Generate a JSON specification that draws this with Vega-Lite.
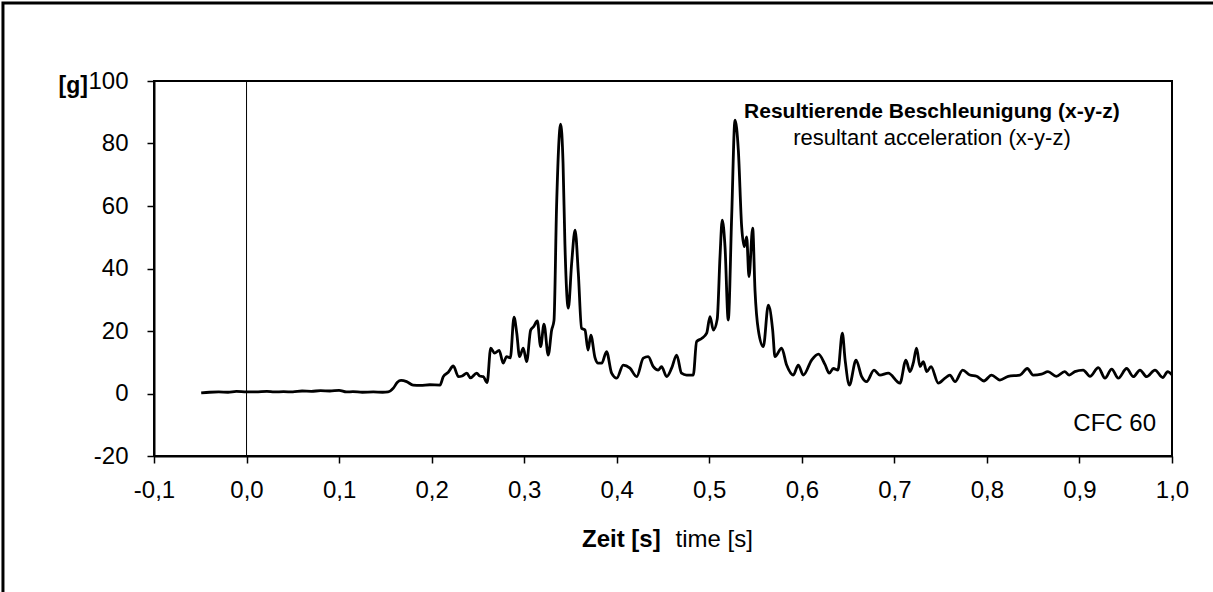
{
  "$schema": "https://vega.github.io/schema/vega-lite/v6.json",
  "width": 1018,
  "height": 375,
  "autosize": "none",
  "padding": {"left": 154, "top": 81, "right": 41, "bottom": 136},
  "background": "white",
  "config": {
    "font": "Liberation Sans",
    "view": {"stroke": "#000", "strokeWidth": 2},
    "axis": {
      "grid": false,
      "domainColor": "#000",
      "domainWidth": 2,
      "tickColor": "#000",
      "tickWidth": 1.5,
      "tickSize": 7,
      "labelColor": "#000",
      "labelFont": "Liberation Sans",
      "labelFontSize": 24,
      "labelOverlap": false,
      "labelFlush": false,
      "titleColor": "#000",
      "titleFont": "Liberation Sans"
    },
    "text": {"font": "Liberation Sans", "color": "#000"}
  },
  "data": {
    "values": [
      {"t": -0.049, "g": 0.2}, {"t": -0.04, "g": 0.4}, {"t": -0.03, "g": 0.5}, {"t": -0.02, "g": 0.4},
      {"t": -0.011, "g": 0.7}, {"t": 0.0, "g": 0.5}, {"t": 0.01, "g": 0.5}, {"t": 0.022, "g": 0.7},
      {"t": 0.03, "g": 0.5}, {"t": 0.04, "g": 0.6}, {"t": 0.05, "g": 0.5}, {"t": 0.06, "g": 0.8},
      {"t": 0.07, "g": 0.7}, {"t": 0.08, "g": 0.9}, {"t": 0.09, "g": 0.8}, {"t": 0.1, "g": 1.0},
      {"t": 0.108, "g": 0.5}, {"t": 0.115, "g": 0.6}, {"t": 0.125, "g": 0.4}, {"t": 0.137, "g": 0.5},
      {"t": 0.147, "g": 0.4}, {"t": 0.153, "g": 0.5}, {"t": 0.1586, "g": 1.7}, {"t": 0.163, "g": 3.6},
      {"t": 0.167, "g": 4.2}, {"t": 0.173, "g": 3.8}, {"t": 0.18, "g": 2.7}, {"t": 0.188, "g": 2.6},
      {"t": 0.198, "g": 2.8}, {"t": 0.209, "g": 2.7}, {"t": 0.2126, "g": 5.4}, {"t": 0.218, "g": 6.8},
      {"t": 0.2234, "g": 8.8}, {"t": 0.229, "g": 5.4}, {"t": 0.233, "g": 5.6}, {"t": 0.238, "g": 6.5},
      {"t": 0.242, "g": 5.0}, {"t": 0.2487, "g": 6.5}, {"t": 0.252, "g": 5.6}, {"t": 0.2558, "g": 5.4},
      {"t": 0.26, "g": 3.5}, {"t": 0.2638, "g": 14.5}, {"t": 0.268, "g": 12.9}, {"t": 0.273, "g": 13.8},
      {"t": 0.2773, "g": 9.7}, {"t": 0.281, "g": 11.8}, {"t": 0.285, "g": 11.4}, {"t": 0.289, "g": 24.4},
      {"t": 0.292, "g": 19.3}, {"t": 0.295, "g": 11.8}, {"t": 0.299, "g": 14.5}, {"t": 0.3027, "g": 10.2},
      {"t": 0.307, "g": 20.3}, {"t": 0.31, "g": 21.3}, {"t": 0.3142, "g": 23.2}, {"t": 0.3178, "g": 15.0},
      {"t": 0.3214, "g": 22.2}, {"t": 0.326, "g": 12.3}, {"t": 0.3297, "g": 20.3}, {"t": 0.3322, "g": 23.3},
      {"t": 0.335, "g": 59.8}, {"t": 0.3394, "g": 86.2}, {"t": 0.342, "g": 73.7}, {"t": 0.344, "g": 48.0},
      {"t": 0.3477, "g": 27.3}, {"t": 0.3513, "g": 41.7}, {"t": 0.355, "g": 52.3}, {"t": 0.3585, "g": 38.5},
      {"t": 0.362, "g": 20.9}, {"t": 0.3657, "g": 20.3}, {"t": 0.369, "g": 13.9}, {"t": 0.372, "g": 18.7},
      {"t": 0.3765, "g": 11.5}, {"t": 0.38, "g": 9.7}, {"t": 0.3838, "g": 9.7}, {"t": 0.389, "g": 13.4},
      {"t": 0.3945, "g": 6.5}, {"t": 0.4, "g": 4.9}, {"t": 0.407, "g": 9.1}, {"t": 0.4143, "g": 8.1},
      {"t": 0.4216, "g": 5.4}, {"t": 0.4287, "g": 11.3}, {"t": 0.434, "g": 11.8}, {"t": 0.4395, "g": 8.6},
      {"t": 0.445, "g": 7.5}, {"t": 0.4484, "g": 8.6}, {"t": 0.454, "g": 5.4}, {"t": 0.4593, "g": 8.1},
      {"t": 0.4648, "g": 12.3}, {"t": 0.47, "g": 6.5}, {"t": 0.4755, "g": 5.9}, {"t": 0.4827, "g": 5.9},
      {"t": 0.4863, "g": 16.6}, {"t": 0.4917, "g": 17.6}, {"t": 0.4972, "g": 19.3}, {"t": 0.5008, "g": 24.6},
      {"t": 0.5044, "g": 20.3}, {"t": 0.5086, "g": 23.8}, {"t": 0.5116, "g": 43.8}, {"t": 0.514, "g": 55.5},
      {"t": 0.517, "g": 47.0}, {"t": 0.5205, "g": 23.5}, {"t": 0.5242, "g": 56.6}, {"t": 0.5278, "g": 87.5},
      {"t": 0.5314, "g": 77.9}, {"t": 0.535, "g": 53.4}, {"t": 0.5378, "g": 47.0}, {"t": 0.5404, "g": 50.1},
      {"t": 0.5429, "g": 37.4}, {"t": 0.5469, "g": 52.9}, {"t": 0.5494, "g": 33.1}, {"t": 0.553, "g": 20.3},
      {"t": 0.5584, "g": 15.0}, {"t": 0.5638, "g": 28.3}, {"t": 0.5685, "g": 20.3}, {"t": 0.571, "g": 11.8},
      {"t": 0.5782, "g": 14.5}, {"t": 0.5836, "g": 9.1}, {"t": 0.5908, "g": 5.9}, {"t": 0.5962, "g": 9.1},
      {"t": 0.6016, "g": 5.9}, {"t": 0.6106, "g": 10.7}, {"t": 0.618, "g": 12.6}, {"t": 0.625, "g": 9.3},
      {"t": 0.6297, "g": 6.5}, {"t": 0.634, "g": 8.0}, {"t": 0.639, "g": 7.5}, {"t": 0.6438, "g": 19.3},
      {"t": 0.6468, "g": 10.7}, {"t": 0.6514, "g": 2.7}, {"t": 0.6586, "g": 10.7}, {"t": 0.6647, "g": 5.4},
      {"t": 0.67, "g": 3.8}, {"t": 0.678, "g": 7.5}, {"t": 0.6844, "g": 5.9}, {"t": 0.6934, "g": 6.5},
      {"t": 0.706, "g": 3.3}, {"t": 0.7125, "g": 10.7}, {"t": 0.7168, "g": 7.0}, {"t": 0.7204, "g": 9.7},
      {"t": 0.724, "g": 14.5}, {"t": 0.7277, "g": 8.6}, {"t": 0.7313, "g": 10.2}, {"t": 0.735, "g": 7.0},
      {"t": 0.7396, "g": 8.6}, {"t": 0.7475, "g": 3.3}, {"t": 0.7547, "g": 4.9}, {"t": 0.76, "g": 5.9},
      {"t": 0.7656, "g": 3.8}, {"t": 0.7738, "g": 7.5}, {"t": 0.7817, "g": 5.9}, {"t": 0.7889, "g": 5.5},
      {"t": 0.7968, "g": 4.0}, {"t": 0.805, "g": 5.9}, {"t": 0.814, "g": 4.3}, {"t": 0.823, "g": 5.5},
      {"t": 0.8357, "g": 5.9}, {"t": 0.8436, "g": 8.0}, {"t": 0.85, "g": 5.9}, {"t": 0.859, "g": 6.2},
      {"t": 0.866, "g": 7.0}, {"t": 0.875, "g": 5.5}, {"t": 0.884, "g": 7.0}, {"t": 0.889, "g": 5.9},
      {"t": 0.895, "g": 7.0}, {"t": 0.904, "g": 7.5}, {"t": 0.9114, "g": 5.5}, {"t": 0.9204, "g": 8.3},
      {"t": 0.9276, "g": 4.9}, {"t": 0.9348, "g": 7.8}, {"t": 0.942, "g": 4.9}, {"t": 0.951, "g": 8.0},
      {"t": 0.9582, "g": 5.4}, {"t": 0.9654, "g": 7.5}, {"t": 0.9726, "g": 5.4}, {"t": 0.9816, "g": 7.5},
      {"t": 0.99, "g": 5.1}, {"t": 0.9953, "g": 7.0}, {"t": 1.0, "g": 6.0}
    ]
  },
  "layer": [
    {
      "data": {"values": [{}]},
      "mark": {"type": "rect", "filled": false, "stroke": "#000", "strokeWidth": 3, "clip": false},
      "encoding": {
        "x": {"datum": -0.2632, "type": "quantitative"},
        "x2": {"datum": 1.2},
        "y": {"datum": 124.96, "type": "quantitative"},
        "y2": {"datum": -80}
      }
    },
    {
      "data": {"values": [{}]},
      "mark": {"type": "rule", "color": "#000", "strokeWidth": 1},
      "encoding": {"x": {"datum": 0, "type": "quantitative"}}
    },
    {
      "mark": {"type": "line", "color": "#000", "strokeWidth": 2.8, "strokeJoin": "round", "interpolate": "monotone"},
      "encoding": {
        "x": {
          "field": "t",
          "type": "quantitative",
          "scale": {"domain": [-0.1, 1.0], "nice": false, "zero": false},
          "axis": {
            "title": null,
            "values": [-0.1, 0, 0.1, 0.2, 0.3, 0.4, 0.5, 0.6, 0.7, 0.8, 0.9, 1.0],
            "labelPadding": 15,
            "labelExpr": "(datum.value < -0.001 ? '-' : '') + replace(format(abs(datum.value), '.1f'), '.', ',')"
          }
        },
        "y": {
          "field": "g",
          "type": "quantitative",
          "scale": {"domain": [-20, 100], "nice": false, "zero": false},
          "axis": {
            "title": "[g]",
            "titleAngle": 0,
            "titleFontWeight": "bold",
            "titleFontSize": 23,
            "titleAlign": "left",
            "titleBaseline": "alphabetic",
            "titleX": -96,
            "titleY": 11,
            "values": [-20, 0, 20, 40, 60, 80, 100],
            "labelPadding": 19,
            "labelExpr": "(datum.value < 0 ? '-' : '') + abs(datum.value)"
          }
        }
      }
    },
    {
      "data": {"values": [{}]},
      "mark": {"type": "text", "text": "Zeit [s]", "fontWeight": "bold", "fontSize": 24, "align": "left", "baseline": "alphabetic", "clip": false},
      "encoding": {"x": {"datum": 0.3625, "type": "quantitative"}, "y": {"datum": -49.1, "type": "quantitative"}}
    },
    {
      "data": {"values": [{}]},
      "mark": {"type": "text", "text": "time [s]", "fontSize": 24, "align": "right", "baseline": "alphabetic", "clip": false},
      "encoding": {"x": {"datum": 0.5472, "type": "quantitative"}, "y": {"datum": -49.1, "type": "quantitative"}}
    },
    {
      "data": {"values": [{}]},
      "mark": {"type": "text", "text": "Resultierende Beschleunigung (x-y-z)", "fontWeight": "bold", "fontSize": 21, "align": "center", "baseline": "alphabetic"},
      "encoding": {"x": {"datum": 0.7406, "type": "quantitative"}, "y": {"datum": 88.3, "type": "quantitative"}}
    },
    {
      "data": {"values": [{}]},
      "mark": {"type": "text", "text": "resultant acceleration (x-y-z)", "fontSize": 22, "align": "center", "baseline": "alphabetic"},
      "encoding": {"x": {"datum": 0.7406, "type": "quantitative"}, "y": {"datum": 79.5, "type": "quantitative"}}
    },
    {
      "data": {"values": [{}]},
      "mark": {"type": "text", "text": "CFC 60", "fontSize": 24, "align": "right", "baseline": "alphabetic"},
      "encoding": {"x": {"datum": 0.9827, "type": "quantitative"}, "y": {"datum": -12, "type": "quantitative"}}
    }
  ]
}
